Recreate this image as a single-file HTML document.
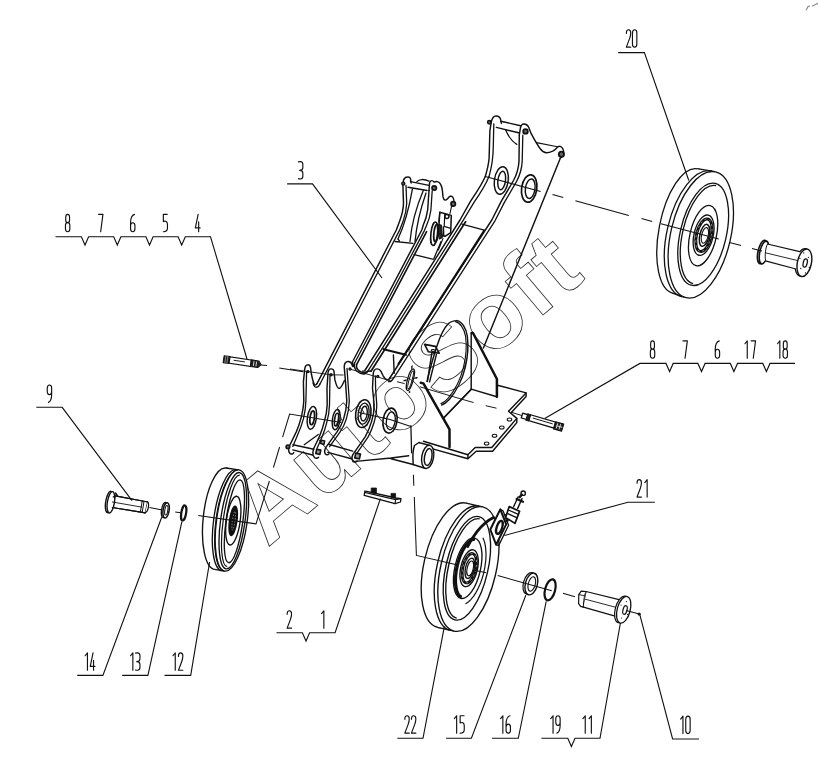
<!DOCTYPE html>
<html><head><meta charset="utf-8"><title>diagram</title>
<style>
html,body{margin:0;padding:0;background:#fff;}
body{width:818px;height:784px;overflow:hidden;font-family:"Liberation Sans",sans-serif;}
svg{display:block;position:absolute;left:0;top:0;}
.wm{font-family:"Liberation Sans",sans-serif;fill:none;stroke:#222;stroke-width:0.8;}
</style></head><body>
<svg width="818" height="784" viewBox="0 0 818 784">
<defs>
<path id="d0" d="M0,3.2 C0,1 1,0 2.2,0 C3.4,0 4.4,1 4.4,3.2 V14.2 C4.4,16.4 3.4,17.4 2.2,17.4 C1,17.4 0,16.4 0,14.2 Z"/>
<path id="d1" d="M0,2.9 L2.3,0 V17.4"/>
<path id="d2" d="M0,3.6 C0,1 1,0 2.2,0 C3.4,0 4.4,1 4.4,3.2 C4.4,5 4,6.6 3.3,8.6 L0,17.4 H4.4"/>
<path id="d3" d="M0,0.3 C0.8,0 1.4,0 2,0 C3.6,0 4.4,1 4.4,3 V6 C4.4,7.8 3.4,8.8 1.2,8.8 C3.4,8.8 4.4,9.8 4.4,11.6 V14.4 C4.4,16.4 3.6,17.4 2,17.4 C1.4,17.4 0.8,17.4 0,17.1"/>
<path id="d4" d="M2.8,0 L0,13.5 H4.8 M3.3,7.5 V17.4"/>
<path id="d5" d="M4.2,0 H0.3 V7.2 C2.4,6 4.4,7.2 4.4,10 V14 C4.4,16.4 3.2,17.4 0.3,17.4"/>
<path id="d6" d="M4,0 C2,0.6 0,3.5 0,8.5 V14.2 C0,16.4 1,17.4 2.2,17.4 C3.4,17.4 4.4,16.4 4.4,14.2 V11.6 C4.4,9.4 3.4,8.4 2.2,8.4 C1,8.4 0,9.4 0,11.6"/>
<path id="d7" d="M0,0 H4.4 L2.1,17.4"/>
<path id="d8" d="M2.2,8.2 C1,8.2 0.3,7.2 0.3,5.8 V2.8 C0.3,1 1,0 2.2,0 C3.4,0 4.1,1 4.1,2.8 V5.8 C4.1,7.2 3.4,8.2 2.2,8.2 C3.6,8.2 4.4,9.4 4.4,11 V14.4 C4.4,16.4 3.6,17.4 2.2,17.4 C0.8,17.4 0,16.4 0,14.4 V11 C0,9.4 0.8,8.2 2.2,8.2 Z"/>
<path id="d9" d="M4.4,6 C4.4,8.4 3.4,9.6 2.2,9.6 C1,9.6 0,8.4 0,6 V3.2 C0,1 1,0 2.2,0 C3.4,0 4.4,1 4.4,3.2 V9.5 C4.4,14 3,16.6 1.2,17.4"/>
</defs>
<!-- 00_watermark.svg -->
<g id="watermark" font-family="Liberation Sans, sans-serif" font-weight="bold" font-size="94.6" letter-spacing="2.6" transform="translate(267.4,547.8) rotate(-40.2)">
<text x="0" y="0" fill="none" stroke="#2a2a2a" stroke-width="0.8" stroke-linejoin="miter">AutoSoft</text>
</g>

<!-- 10_frame.svg -->
<g id="frame" fill="none" stroke="#111" stroke-width="1.45" stroke-linejoin="round" stroke-linecap="round">

<!-- ===== base plate ===== -->
<g id="baseplate">
<path d="M497.5,385.2 L526.1,392.9 L508.5,411.2 L516.8,418.4 L491.8,447.5 L475.2,447.5 L467.9,454.8 L423.5,441.3"/>
<path d="M526.1,392.9 V396.6 L511.6,412.2 M516.8,418.4 V422.6 L492.6,451.3 H476.2 L467.9,458.8 V454.8 M467.9,458.8 L433.6,449.1"/>
<ellipse cx="509.5" cy="419.5" rx="2.3" ry="1.5" stroke-width="1.05"/>
<ellipse cx="501.8" cy="427.4" rx="2.3" ry="1.5" stroke-width="1.05"/>
<ellipse cx="494.5" cy="435.7" rx="2.3" ry="1.5" stroke-width="1.05"/>
<ellipse cx="486.6" cy="443.4" rx="2.3" ry="1.5" stroke-width="1.05"/>
</g>

<!-- ===== gusset ===== -->
<g id="gusset">
<path d="M471.2,333.4 V389.1 L496.8,396.7 V379 " />
<path d="M471.6,333 L473,333 L496.9,379 V396.7" stroke-width="2.50"/>
<path d="M471.4,389.1 L443.6,418"/>
</g>

<!-- ===== guard (crescent) ===== -->
<g id="guard">
<path d="M457,320.6 C462,321.5 466,328 467.3,336 C468.6,346 467.5,358 465.2,367.5 C462.5,379 456,392 449.3,399.5 C446.5,402.5 444,404.2 441.7,405"/>
<path d="M455.5,321.6 C460,322.5 464.2,328.6 465.6,336.4 C466.9,346 465.8,358 463.5,367.2 C460.8,378.5 454.6,390.8 448,398.3 C445.6,401 443.2,402.8 441,403.6" stroke-width="1.15"/>
<path d="M457,320.6 C453,320.6 450,322 448,324 C444,328 440.5,335 436.6,347 C433,358 429.5,371 427,381.4"/>
<!-- tab -->
<path d="M424.6,344.4 L435.4,346.4 L439.2,353.2 L428.4,351.8 Z" stroke-width="1.60"/>
<ellipse cx="433.4" cy="350.6" rx="2.2" ry="1" transform="rotate(12 433.4 350.6)" stroke-width="1.15"/>
<!-- strut -->
<path d="M431.8,353.4 L427.4,381.5 M436.4,354.4 L429.6,381.8"/>
</g>

<!-- thick diagonal + vertical -->
<path d="M420.8,382.8 L423.4,383.4 L449.5,429.4 V447" stroke-width="2.50"/>
<!-- floor line going up-right from thick line -->
<path d="M443.9,417.8 L471.4,389.3" stroke-width="1.30"/>

<!-- ===== right arm ===== -->
<g id="rightarm">
<!-- front plate right edge -->
<path d="M560.3,158.2 L483.4,348"/>
<!-- front plate top contour -->
<path d="M519.3,135.2 L520.4,128 C521,125 522.3,124 523.8,124 C526,124 527.6,125 528.6,127 L531.2,133.7 C534,139 537,144.5 540.4,149 C542.6,151.8 544.4,152.8 546.4,152.8 C549,152.8 551,152 552.7,151.2 C555,150 556.5,148 558,146.8 C559.6,145.8 561,146.4 562,147.6 C563.6,149.6 564,152.4 563.2,154.6 C562.6,156.4 561.4,157.6 560.3,158.2"/>
<path d="M536.6,142.6 L557.4,146.8" stroke-width="1.15"/>
<circle fill="#666" cx="525.5" cy="131.4" r="2.3" stroke-width="1.80"/>
<circle fill="#666" cx="561.4" cy="154.2" r="2.6" stroke-width="1.80"/>
<!-- back plate saddle visible behind pin -->
<path d="M505.6,129.8 C507.5,134.5 510.5,140.6 516.8,144.4" stroke-width="1.30"/>
<!-- pin -->
<path d="M500.8,121.2 L520.6,125.8 M496.4,127.4 L518.6,132.8"/>
<!-- back plate ear -->
<path d="M485.3,176.5 C487.2,170 488.6,164 489.1,158.2 L489.9,130.6 L491.2,122.4 C492,118.2 493.8,116 496,116 C498.4,116 500.4,117.6 500.8,120.4 L501.4,123.4"/>
<path d="M493.8,124 L493.3,146 C493.2,158 491.5,168 489,176.6" stroke-width="1.30"/>
<circle fill="#666" cx="489.3" cy="122.2" r="1.7" stroke-width="1.50"/>
<!-- front plate left edge down (L4) -->
<path d="M519.3,135.2 L519,161.2 C518.6,168 516.5,175 513.5,180.5 L501.2,201.4 L491.8,220 L389.8,378"/>
<path d="M522.8,135.2 L522.2,161.4 C521.8,168.6 519.8,175.4 516.6,181.4 L504.4,202.4 L495,220.8 L393.4,378.4" stroke-width="1.30"/>
<!-- back plate left edge down (L3) -->
<path d="M485.3,176.5 C481,186 476,193 470.6,201.2 L460,220 L365.2,370"/>
<path d="M489,176.6 C485,186.5 479.6,194.4 474,202.4 L463,220.6 L368,370.8" stroke-width="1.30"/>
<path d="M465.6,221.8 L371,371.2" stroke-width="1.70"/>
<!-- cross line L3-L4 -->
<path d="M462,224.2 L484.2,230.2" stroke-width="1.30"/>
<path d="M484.2,230.6 L398.4,364" stroke-width="2.00"/>
<!-- holes -->
<ellipse cx="501.3" cy="180.5" rx="6.9" ry="13.8" transform="rotate(8 501.3 180.5)" fill="#fff"/>
<ellipse cx="501.7" cy="180.5" rx="3.8" ry="9.3" transform="rotate(8 501.7 180.5)"/>
<ellipse cx="529.2" cy="188.5" rx="7.6" ry="13.8" transform="rotate(8 529.2 188.5)" fill="#fff" stroke-width="1.70"/>
<ellipse cx="530.2" cy="188.7" rx="4.8" ry="9.8" transform="rotate(8 530.2 188.7)"/>
</g>

<!-- ===== left arm ===== -->
<g id="leftarm">
<!-- back plate ear + L1 -->
<path d="M411.1,183 L410.5,178.6 C410,177 408.8,176.8 407.3,177 C405.2,177.2 404,178.4 403.5,180.3 L402.9,185.4 L403.5,203.3 C403.3,210 401.6,216 399.7,221.1 L396.3,230 L317,383.6"/>
<path d="M406,185.4 L406.7,203.3 C406.5,210.6 404.8,216.6 403,221.6 L399.5,230.4 L320,384" stroke-width="1.30"/>
<circle fill="#666" cx="403.3" cy="183.6" r="1.5" stroke-width="1.40"/>
<!-- pin -->
<path d="M410.5,181.6 L429,185.4 M408,187.3 L427.1,190.5"/>
<!-- disc arcs inside arm -->
<path d="M416.9,181.6 C419,179.2 424,178.6 429,181.2" stroke-width="1.30"/>
<path d="M412.4,189.2 C410,203 405,224 398,239" stroke-width="1.30"/>
<path d="M423.3,190.5 C418,203 411.5,224 410,241.5 M426,193 C421.5,206 416.5,226 415,241.5" stroke-width="1.30"/>
<!-- front plate ear -->
<path d="M429,190.5 L429.6,182.9 C430,181 430.6,180.6 431.6,180.6 C433,180.6 433.6,181.4 434.1,182.2 C435.4,181.6 436.4,181.4 437.3,181.6 C439,182 440,183 440.5,184.1 C441.6,186 442.2,188.4 442.4,190.5 L443,196.9 C443.4,198.8 444,199.8 444.9,200.1 C445.9,200.2 446.8,199.6 447.5,198.8 C448.4,197.6 449.2,196.6 450.1,196.3 C451.2,196 452,196.2 452.6,196.9 C453.4,198 453.8,199.4 453.9,200.7"/>
<circle fill="#666" cx="434.2" cy="188" r="2.2" stroke-width="1.70"/>
<circle fill="#666" cx="453.2" cy="203.9" r="2.2" stroke-width="1.70"/>
<path d="M451.6,206 L450,213.5" stroke-width="1.15"/>
<!-- L2 (front plate left edge, triple) -->
<path d="M429,190.5 L427.7,209.6 C427,215 425.6,220 423.3,225 L421.8,230 L352.4,362"/>
<path d="M432.2,190.8 L430.9,210 C430.2,215.6 428.8,220.6 426.5,225.6 L424.4,230.6 L354.6,363" stroke-width="1.30"/>
<path d="M426.6,231.6 L356.6,364.6" stroke-width="1.60"/>
<!-- right edge of front plate behind bracket -->
<path d="M441.1,241.5 L433.6,259.2" stroke-width="1.30"/>
<!-- cross lines -->
<path d="M395,241.5 L412.9,243.4 M414.2,254.7 L432.6,259.2 M399.4,240.8 L398,239" stroke-width="1.30"/>
<!-- sensor bracket -->
<path d="M439.8,212.2 L451.3,215.4 L450.7,232.6 L445,236.4 L438.4,233.8 Z" stroke-width="1.5" fill="#fff"/>
<path d="M444.8,213.8 L444.2,226.4 L450.6,228.4" stroke-width="1.2"/>
<path d="M439.8,212.2 L438.8,222" stroke-width="1.2"/>
<circle cx="446.9" cy="216.4" r="2" stroke-width="1.5"/>
<ellipse cx="434.2" cy="233.8" rx="3.3" ry="11.8" transform="rotate(6 434.2 233.8)" fill="#fff" stroke-width="1.6"/>
<ellipse cx="436.2" cy="233" rx="2.3" ry="8.8" transform="rotate(6 436.2 233)" stroke-width="1.7"/>
<path d="M438.8,224.4 L441.6,225.2 L442.4,237.6 L439.8,239 Z" fill="#222" stroke-width="1"/>
<path d="M443.4,227 L443.8,236" stroke-width="1.4"/>
<path d="M443,238.4 L438.4,250" stroke-width="1.1"/>
</g>

<!-- ===== box cross plates lower ===== -->
<path d="M383.6,349.2 L405.8,354.8" stroke-width="2.20"/>
<path d="M393.4,355 L394.2,373.4" stroke-width="1.40"/>

<!-- ===== boss cylinder ===== -->
<g id="boss">
<path d="M414.5,445.5 C413,450 412.6,456 413.1,461.6 M418.9,442.5 L429.9,445.5 M413.1,464.5 L424.8,468.2 M414.5,445.5 L418.9,442.5 M413.1,461.6 V464.5"/>
<ellipse cx="427.7" cy="456.9" rx="5.9" ry="11.7" transform="rotate(10 427.7 456.9)" fill="#fff"/>
<ellipse cx="428.2" cy="457" rx="3.7" ry="8.5" transform="rotate(10 428.2 457)"/>
<path d="M410.9,425.7 L411.6,452.8" stroke-width="1.30"/>
<path d="M353,461.6 L391.1,458 L408.7,455.7 M391.1,458.8 L413.1,464.5" stroke-width="1.40"/>
</g>
<!-- small slotted hole with centermarks -->
<g id="slot">
<ellipse cx="410.4" cy="379.7" rx="2.9" ry="11.2" transform="rotate(15 410.4 379.7)" stroke-width="1.2"/>
<ellipse cx="410.6" cy="379.8" rx="1.5" ry="9.2" transform="rotate(15 410.6 379.8)" stroke-width="1"/>
<circle cx="411.9" cy="367" r="0.8" fill="#111" stroke="none"/><circle cx="409.5" cy="392" r="0.9" fill="#111" stroke="none"/>
<circle cx="416.2" cy="377.8" r="0.9" fill="#111" stroke="none"/><circle cx="405.2" cy="380.4" r="0.9" fill="#111" stroke="none"/>
<path d="M414,378.4 L417.4,377.6 M403.6,380.8 L407,380 M411.6,368.6 L412.2,365.6" stroke-width="0.9"/>
</g>
</g>

<!-- 12_forks.svg -->
<g id="forks" fill="none" stroke="#111" stroke-width="1.45" stroke-linejoin="round" stroke-linecap="round">
<!-- P1 -->
<path d="M317,383.6 C316.2,385 315.2,385.4 314.4,384.4 C313.2,382.6 312.4,379 311.4,374 L310.5,367.4 C310.1,365.6 309.2,364.6 307.9,364.7 C306,364.8 305,366.6 304.7,369.1 L303.4,381.9 L303.8,401 C303.6,406 302.8,411 301.5,416.3 C300,422 298.4,427 296.4,431.6 L289.4,446 C288.4,449 288.6,452.2 290.2,453.6 C291.6,454.6 293,454 293.8,452.6"/>
<path d="M320,384 C318.8,386.8 316.8,388 315,386.8 C314,386 313.4,384.6 313,383" stroke-width="1.30"/>
<path d="M306.6,371.7 L305.9,401 C305.8,407 304.8,413 303.4,418.9 C301.8,424.6 300,429.6 298,434 L292.8,446.4" stroke-width="1.30"/>
<circle cx="307.9" cy="371.6" r="1" stroke-width="1.40"/>
<ellipse cx="311.9" cy="417.8" rx="4.5" ry="11.5" transform="rotate(8 311.9 417.8)"/>
<ellipse cx="312.2" cy="417.8" rx="2.2" ry="7" transform="rotate(8 312.2 417.8)" stroke-width="1.70"/>
<!-- P2 -->
<path d="M344.4,380.6 C342.6,384.6 341,388.4 339.1,388.4 C337.4,388.4 336,384.4 334.8,379.4 L334,371.4 C333.6,369.6 332.6,368.8 331.1,368.9 C329.2,369 328.2,370.6 328,373 L327,388.3 L327.2,404.8 C327,410 326,416 324.4,421.4 C323,427 321.4,432 319.3,436.7 L313.6,448.8 C312.6,452.4 312.8,456 314.6,457.6 C316,458.6 317.6,458.2 318.6,457.2"/>
<path d="M330,375.6 L329.5,404.8 C329.3,411 328.3,417 326.8,422.4 C325.4,428 323.8,433 321.8,437.6 L317,448.6" stroke-width="1.30"/>
<circle cx="331.1" cy="374.8" r="1" stroke-width="1.40"/>
<ellipse cx="336.2" cy="419.6" rx="3.8" ry="10.2" transform="rotate(8 336.2 419.6)"/>
<ellipse cx="336.5" cy="419.6" rx="1.9" ry="6.4" transform="rotate(8 336.5 419.6)" stroke-width="1.70"/>
<!-- P1-P2 brace -->
<path d="M304.2,444.7 L318.3,434.5" stroke-width="1.30"/>
<!-- P3 -->
<path d="M352.4,362 L353.8,366.6 C352.8,366.8 352.4,366 352.2,365 C351.4,362.6 350,361.4 348,361.5 C345.6,361.6 344.4,363.6 344.2,366.6 L345.5,381.9 L346.8,401 C346.6,407 345.4,413 343.6,418.9 C342,424 339.8,428 337.2,431.6 L326.2,446.9 C324.6,449.6 324.2,452.4 325.4,454 C326.4,455.2 327.8,455 328.8,454"/>
<path d="M347,368.4 L349.3,401 C349.2,407.4 348,413.4 346.2,419.4 C344.6,424.6 342.4,428.8 339.8,432.4 L329.6,446.6" stroke-width="1.30"/>
<circle cx="350" cy="369" r="1" stroke-width="1.40"/>
<!-- U between L2 and L3 -->
<path d="M356.6,364.6 C356.2,366.8 356.6,368.6 358,369.8 C360,371.6 362.4,372.8 364.4,372.4 C366.6,372 368.6,370.6 371,371.2"/>
<path d="M354.6,363 C354,366.6 354.8,369.4 357,371.2 C359.6,373.4 362.6,374.4 365,373.8 C366.6,373.4 367.6,372 368,370.8" stroke-width="1.30"/>
<path d="M365.2,370 C364.6,371 363.6,371.4 362.6,371" stroke-width="1.30"/>
<ellipse cx="363.3" cy="413.6" rx="7.6" ry="14" transform="rotate(8 363.3 413.6)" stroke-width="1.60"/>
<ellipse cx="363.6" cy="413.6" rx="5.4" ry="10.6" transform="rotate(8 363.6 413.6)" stroke-width="1.30"/>
<ellipse cx="364" cy="413.6" rx="3.2" ry="7.4" transform="rotate(8 364 413.6)" stroke-width="1.40"/>
<!-- P4 -->
<path d="M389.8,378 C388.8,379.6 387.6,380.2 386.6,379.6 C385,378.6 384,377.4 383.1,375.8 L381,371.4 C380.2,369.8 378.8,368.8 376.8,368.9 C374.6,369 373.4,371 373.2,374.2 L372.5,388.3 L374.2,404.8 C374.2,410.6 373.4,416 371.6,421.4 C370,427 367.8,432 365.3,436.7 L352.8,454.6 C351.6,457.4 351.8,460 353.4,461.4 C354.6,462.4 356.2,462 357.2,461"/>
<path d="M393.4,378.4 C392,381 390.2,382 388.4,381.6" stroke-width="1.30"/>
<path d="M375.4,375.9 L375.6,388 L376.8,405 C376.8,411 376,416.6 374.2,422 C372.6,427.6 370.4,432.6 368,437.2 L356.6,453.6" stroke-width="1.30"/>
<circle cx="377.8" cy="376.4" r="1" stroke-width="1.40"/>
<ellipse cx="390" cy="420.6" rx="7" ry="12.6" transform="rotate(8 390 420.6)" stroke-width="1.60"/>
<ellipse cx="390.8" cy="420.8" rx="4.4" ry="9" transform="rotate(8 390.8 420.8)" stroke-width="1.30"/>
<!-- pins at bottom -->
<path d="M293,444.8 L313.8,449.2 M292.8,449.9 L312.6,455" />
<path d="M328.6,444.2 L352.7,451.1 M327.8,452.4 L351.4,458.8"/>
<!-- nuts -->
<circle cx="287.9" cy="446.8" r="1.8" stroke-width="1.60" fill="#777"/>
<rect x="316.2" y="449.6" width="4.2" height="4.4" stroke-width="1.60" transform="rotate(12 318.3 451.8)" fill="#999"/>
<rect x="355.2" y="453.6" width="4.8" height="4.8" stroke-width="1.60" transform="rotate(12 357.6 456)" fill="#999"/>
<rect x="321" y="440.6" width="3.4" height="3.4" stroke-width="1.40" transform="rotate(12 322.7 442.3)" fill="#999"/>
<circle cx="370.1" cy="416.8" r="0.55" fill="#111" stroke="none"/><circle cx="366.8" cy="425.4" r="0.55" fill="#111" stroke="none"/><circle cx="360.2" cy="422.2" r="0.55" fill="#111" stroke="none"/><circle cx="356.9" cy="410.4" r="0.55" fill="#111" stroke="none"/><circle cx="360.2" cy="401.8" r="0.55" fill="#111" stroke="none"/><circle cx="366.8" cy="405.0" r="0.55" fill="#111" stroke="none"/><circle cx="396.3" cy="423.5" r="0.55" fill="#111" stroke="none"/><circle cx="393.3" cy="431.1" r="0.55" fill="#111" stroke="none"/><circle cx="387.4" cy="428.3" r="0.55" fill="#111" stroke="none"/><circle cx="384.5" cy="417.9" r="0.55" fill="#111" stroke="none"/><circle cx="387.5" cy="410.3" r="0.55" fill="#111" stroke="none"/><circle cx="393.4" cy="413.1" r="0.55" fill="#111" stroke="none"/>
</g>

<!-- 20_wheel20.svg -->
<g id="wheel20" fill="none" stroke="#111" stroke-width="1.3">
<ellipse cx="685.3" cy="231.0" rx="26.3" ry="63.4" transform="rotate(11 685.3 231.0)" fill="#fff" />
<path d="M697.2,168.7 L714.8,171.7 L684.7,297.3 L671.8,292.9 Z" fill="#fff" stroke="none"/>
<path d="M697.2,168.7 L714.8,171.7 M684.7,297.3 L671.8,292.9" />
<ellipse cx="700.8" cy="234.8" rx="29.9" ry="64.6" transform="rotate(13.2 700.8 234.8)" fill="#fff" />
<path d="M711.7,171.0 A29.9,64.6 13.2 0 0 682.2,296.8" />
<ellipse cx="703.2" cy="234.3" rx="23.0" ry="52.3" transform="rotate(13.2 703.2 234.3)" />
<path d="M716.1,185.6 A22.0,50.3 13.2 0 0 693.1,283.6" />
<ellipse cx="703.1" cy="235.6" rx="13.2" ry="30.9" transform="rotate(13.2 703.1 235.6)" />
<ellipse cx="703.6" cy="235.2" rx="9.6" ry="20.6" transform="rotate(13.2 703.6 235.2)" stroke-width="1.3"/>
<ellipse cx="703.9" cy="235.2" rx="7.4" ry="16.6" transform="rotate(13.2 703.9 235.2)" stroke-width="3.0"/>
<ellipse cx="703.9" cy="235.2" rx="7.4" ry="16.6" transform="rotate(13.2 703.9 235.2)" stroke="#fff" stroke-width="0.5" stroke-dasharray="2 3"/>
<ellipse cx="704.5" cy="235.3" rx="4.7" ry="11.2" transform="rotate(13.2 704.5 235.3)" stroke-width="1.5"/>
<ellipse cx="704.9" cy="235.4" rx="3.3" ry="8.0" transform="rotate(13.2 704.9 235.4)" stroke-width="1.1" fill="#fff"/>
</g>

<!-- 21_spindle20.svg -->
<g id="spindle20" fill="none" stroke="#111" stroke-width="1.25">
<ellipse cx="762.4" cy="252.0" rx="4.4" ry="11.9" transform="rotate(12 762.4 252.0)" fill="#fff" stroke-width="1.7"/>
<ellipse cx="764.0" cy="252.5" rx="4.2" ry="11.6" transform="rotate(12 764.0 252.5)" fill="#fff" stroke-width="1.6"/>
<ellipse cx="802.6" cy="262.3" rx="7.0" ry="14.0" transform="rotate(12 802.6 262.3)" fill="#fff"/>
<path d="M766.4,243.8 L800.7,251.8 L796,269 L763.6,260.3 Z" fill="#fff" stroke="none"/>
<path d="M767.4,244 L800.7,251.8 M796,269 L765.4,260.8" />
<path d="M765.4,252.8 L798.7,260.8" stroke-width="0.9"/>
<path d="M767.6,244 C765.6,247 764.6,256 765.6,260.8" stroke-width="1"/>
<ellipse cx="804.4" cy="262.8" rx="7.0" ry="14.0" transform="rotate(12 804.4 262.8)" fill="#fff" stroke-width="1.4"/>
<ellipse cx="805.2" cy="263.0" rx="2.0" ry="4.2" transform="rotate(12 805.2 263.0)" stroke-width="1.3"/>
<circle cx="809.3" cy="267.4" r="0.65" fill="#111" stroke="none"/><circle cx="805.5" cy="272.9" r="0.65" fill="#111" stroke="none"/><circle cx="800.8" cy="268.5" r="0.65" fill="#111" stroke="none"/><circle cx="799.9" cy="258.4" r="0.65" fill="#111" stroke="none"/><circle cx="803.7" cy="252.9" r="0.65" fill="#111" stroke="none"/><circle cx="808.4" cy="257.3" r="0.65" fill="#111" stroke="none"/>
</g>

<!-- 30_wheel12.svg -->
<g id="wheel12" fill="none" stroke="#111" stroke-width="1.35">
<ellipse cx="220.3" cy="518.7" rx="17.1" ry="51.0" transform="rotate(6.1 220.3 518.7)" fill="#fff" />
<path d="M225.9,468.0 L238.9,469.9 L224.7,571.1 L214.5,569.4 Z" fill="#fff" stroke="none"/>
<path d="M225.9,468.0 L238.9,469.9 M224.7,571.1 L214.5,569.4" />
<ellipse cx="231.9" cy="520.5" rx="15.3" ry="51.1" transform="rotate(7.9 231.9 520.5)" fill="#fff" />
<path d="M235.6,469.6 A15.3,51.1 7.9 0 0 221.6,570.8" />
<path d="M237.8,470.0 A15.2,50.9 7.9 0 0 223.8,570.8" stroke-width="1.1"/>
<ellipse cx="232.8" cy="520.7" rx="12.2" ry="48.6" transform="rotate(7.9 232.8 520.7)" />
<path d="M239.8,475.1 A10.3,46.2 7.9 0 0 227.2,566.7" stroke-width="1.2"/>
<ellipse cx="234.4" cy="521.3" rx="8.4" ry="41.8" transform="rotate(7.9 234.4 521.3)" />
<ellipse cx="233.3" cy="520.6" rx="6.9" ry="24.6" transform="rotate(7.9 233.3 520.6)" />
<ellipse cx="233.2" cy="520.8" rx="3.7" ry="14.8" transform="rotate(7.9 233.2 520.8)" fill="#111" stroke-width="1.4"/>
<ellipse cx="233.7" cy="520.8" rx="1.3" ry="9.5" transform="rotate(7.9 233.7 520.8)" stroke="#aaa" stroke-width="0.7" stroke-dasharray="1.5 1.5"/>
</g>

<!-- 40_wheel22.svg -->
<g id="wheel22" fill="none" stroke="#111" stroke-width="1.35">
<ellipse cx="451.8" cy="565.2" rx="27.7" ry="63.7" transform="rotate(13 451.8 565.2)" fill="#fff" />
<path d="M466.1,503.1 L482.7,506.9 L454.1,631.1 L437.5,627.3 Z" fill="#fff" stroke="none"/>
<path d="M466.1,503.1 L482.7,506.9 M454.1,631.1 L437.5,627.3" />
<ellipse cx="468.4" cy="569.0" rx="27.7" ry="63.7" transform="rotate(13 468.4 569.0)" fill="#fff" />
<path d="M479.1,506.1 A27.7,63.7 13 0 0 450.5,630.3" />
<ellipse cx="466.9" cy="568.2" rx="21.0" ry="53.0" transform="rotate(13 466.9 568.2)" />
<path d="M479.7,518.8 A19.8,51.0 13 0 0 456.7,618.2" />
<ellipse cx="467.7" cy="568.2" rx="12.8" ry="30.9" transform="rotate(13 467.7 568.2)" />
<path d="M475.1,539.3 A12.0,29.8 13 0 0 461.7,597.3" stroke-width="3.2"/><path d="M482.9,537.7 L483.4,538.9 L483.9,540.2 L484.4,541.6 L484.8,543.1 L485.1,544.7 L485.4,546.4 L485.6,548.1 L485.8,549.9 L485.9,551.8 L486.0,553.7 L486.0,555.7 L485.9,557.7 L485.8,559.7 L485.6,561.8 L485.3,563.9 L485.0,566.0 L484.7,568.1 L484.2,570.2 L483.8,572.3 L483.3,574.4 L482.7,576.5 L482.1,578.5 L481.4,580.6 L480.7,582.5 L479.9,584.5 L479.1,586.3 L478.3,588.1 L477.4,589.9 L476.5,591.5 L475.6,593.1 L474.6,594.6 L473.7,596.1 L472.7,597.4 L471.6,598.6 L470.6,599.8 L469.6,600.8 L468.6,601.7 L467.5,602.5 L466.5,603.2 L465.4,603.8" stroke-width="1.2"/>
<ellipse cx="469.1" cy="568.2" rx="8.4" ry="18.8" transform="rotate(13 469.1 568.2)" stroke-width="1.3"/>
<ellipse cx="469.3" cy="568.2" rx="6.5" ry="15.0" transform="rotate(13 469.3 568.2)" stroke-width="2.8"/>
<ellipse cx="469.3" cy="568.2" rx="6.5" ry="15.0" transform="rotate(13 469.3 568.2)" stroke="#fff" stroke-width="0.5" stroke-dasharray="2 3"/>
<ellipse cx="469.8" cy="568.3" rx="4.3" ry="10.4" transform="rotate(13 469.8 568.3)" stroke-width="1.4"/>
<ellipse cx="470.2" cy="568.4" rx="3.0" ry="7.6" transform="rotate(13 470.2 568.4)" stroke-width="1.1" fill="#fff"/>
</g>

<!-- 45_bracket21.svg -->
<g id="bracket21" fill="none" stroke="#111" stroke-width="1.3" stroke-linejoin="round" stroke-linecap="round">
<!-- scraper band from bracket down-left to the hub recess -->
<path d="M493.6,517.6 C488,520.2 482,525.6 477,531.6 C473.6,536 470,541.6 467.6,546.6" stroke-width="2.8"/>
<!-- plate (parallelogram) -->
<path d="M500.3,509.4 L490.3,529.5 L496.1,544.7 L506.2,524.4 Z" fill="#fff" stroke-width="2"/>
<path d="M500.3,509.4 L503,510.8 L508.6,525.2 L498.6,545.6 L496.1,544.7" stroke-width="1.3"/>
<ellipse cx="499.4" cy="527.4" rx="2.7" ry="6.8" transform="rotate(18 499.4 527.4)" stroke-width="2.3"/>
<!-- connector -->
<path d="M504.4,514.4 L509.4,517 L507.6,521.6 L505.8,521" fill="#222" stroke-width="1.4"/>
<!-- fitting block -->
<path d="M505.6,517.6 L509.2,506.6 L519.6,511.2 L515,523.4 Z" fill="#fff" stroke-width="1.7"/>
<path d="M507.2,513.4 L517.2,517.8 M508.4,510 L518.4,514.4" stroke-width="1.3"/>
<path d="M513.6,506.8 L518.2,496.8 M517.6,508.6 L522,498.6" stroke-width="1.4"/>
<path d="M516.6,499 L523,501.8" stroke-width="2.2"/>
<circle cx="523.2" cy="493.2" r="2.2" stroke-width="1.4"/>
<path d="M519.6,497.2 L521.8,494.6" stroke-width="2.4"/>
</g>

<!-- 50_small.svg -->
<g id="smallparts" fill="none" stroke="#111" stroke-width="1.2" stroke-linejoin="round" stroke-linecap="round">
<!-- bolt 4 (left) : axis (223.6,359.3)->(261.2,364.8) angle 8.3deg -->
<g transform="translate(223.6,359.2) rotate(8.3)">
<rect x="0" y="-3.5" width="6" height="7" fill="#222" stroke-width="1"/>
<path d="M1.8,-3.4 V3.4 M3.8,-3.4 V3.4" stroke="#bbb" stroke-width="0.6"/>
<rect x="6" y="-3.2" width="21.6" height="6.4" fill="#fff"/>
<path d="M10.5,-0.4 H21" stroke-width="0.9"/>
<path d="M27.6,-3.4 H35 L38,0 L35,3.4 H27.6 Z" fill="#222" stroke-width="1"/>
<path d="M30.4,-2 V2 M33,-2 V2" stroke="#ddd" stroke-width="0.9"/>
</g>
<!-- bolt right (8 7 6 17 18): axis (521.5,415.2)->(563.1,427.5) angle 16.5deg -->
<g transform="translate(521.5,415.3) rotate(16.5)">
<path d="M0.5,-2.4 H6 V2.6 H0.5 Z" stroke-width="1.3"/>
<rect x="5.6" y="-3.2" width="3" height="6.6" fill="#222" stroke-width="1"/>
<rect x="8.6" y="-3.1" width="26" height="6.2" fill="#fff"/>
<path d="M12,-0.6 H32" stroke-width="0.9"/>
<path d="M34.6,-3.6 H43 V4 H34.6 Z" fill="#222" stroke-width="1"/>
<path d="M37,-2.2 V2.4 M40,-2.2 V2.4 M37,0 H42" stroke="#ddd" stroke-width="0.9"/>
</g>
<!-- pin 9 -->
<g id="pin9">
<ellipse cx="109.2" cy="502" rx="3.5" ry="10.8" transform="rotate(9 109.2 502)" fill="#fff" stroke-width="1.4"/>
<path d="M115.3,495.9 L147.7,502 L145.2,512.8 L112.2,507.5 Z" fill="#fff"/>
<ellipse cx="110.9" cy="502.3" rx="3.5" ry="10.8" transform="rotate(9 110.9 502.3)" fill="#fff" stroke-width="1.4"/>
<path d="M113.2,497 L115.3,495.9 L147.7,502 M112.2,507.5 L145.2,512.8" />
<path d="M112.4,502 L141.6,507.1" stroke-width="0.9"/>
<path d="M142.2,501 L140.4,512 M144,501.4 L142.2,512.3" stroke-width="1"/>
<path d="M147.7,502 C149.4,503.4 148.6,511.4 145.2,512.8" fill="#fff"/>
<path d="M115.6,493.2 L117,495.2" stroke-width="1.8"/>
</g>
<!-- nut 14 -->
<g id="nut14">
<ellipse cx="164.6" cy="510" rx="3.0" ry="7.7" transform="rotate(9 164.6 510)" fill="#fff" stroke-width="1.3"/>
<ellipse cx="166.1" cy="510.3" rx="3.0" ry="7.7" transform="rotate(9 166.1 510.3)" fill="#fff" stroke-width="1.5"/>
<ellipse cx="166.3" cy="510.3" rx="1.5" ry="4.8" transform="rotate(9 166.3 510.3)" stroke-width="1.1"/>
</g>
<!-- washer 13 -->
<ellipse cx="183.7" cy="513" rx="2.4" ry="7.6" transform="rotate(9 183.7 513)" fill="#fff" stroke-width="2.2"/>
<!-- bar (parts 1,2) -->
<g id="bar12">
<path d="M364.9,491 L364.2,495.4 L395,503.6 L400.5,502 L400.9,498.7 L396.1,498 L365.6,491.2 Z" fill="#fff" stroke-width="1.3"/>
<path d="M364.6,492.4 L395.6,499.6 L395,503.6 M395.6,499.6 L400.9,498.7" stroke-width="1.1"/>
<path d="M371.2,492.4 V488 H376.4 V493.6 Z M391,497 V493.4 H395.6 V498 Z" fill="#111" stroke-width="0.8"/>
</g>
<!-- nut 15 -->
<g id="nut15">
<ellipse cx="529.4" cy="583.4" rx="6" ry="11.1" transform="rotate(15 529.4 583.4)" fill="#fff" stroke-width="1.2"/>
<ellipse cx="531.4" cy="584" rx="6" ry="11.1" transform="rotate(15 531.4 584)" fill="#fff" stroke-width="1.4"/>
<ellipse cx="531.8" cy="584" rx="3.5" ry="7.4" transform="rotate(15 531.8 584)" stroke-width="1.1"/>
</g>
<!-- washer 16 -->
<ellipse cx="550.1" cy="589.8" rx="5" ry="10.8" transform="rotate(15 550.1 589.8)" fill="#fff" stroke-width="2.2"/>
<!-- spindle 11 -->
<g id="spindle11">
<path d="M586,591.5 L621.1,600.1 L616,616.3 L582.6,606.9 Z" fill="#fff"/>
<path d="M585.2,599.2 L617.7,607.8" stroke-width="0.9"/>
<path d="M586,591.5 L581.2,591.2 L578.8,594.6 L578.6,603.6 L580.6,606.4 L582.6,606.9" fill="#fff"/>
<path d="M586,591.5 C584.4,594 583.2,602 583.6,607.2" stroke-width="1"/>
<path d="M578.8,594.6 L583.8,595.6" stroke-width="0.9"/>
<ellipse cx="621.8" cy="609.4" rx="6.5" ry="13.7" transform="rotate(15 621.8 609.4)" fill="#fff" stroke-width="1.2"/>
<ellipse cx="623.7" cy="609.8" rx="6.5" ry="13.7" transform="rotate(15 623.7 609.8)" fill="#fff" stroke-width="1.3"/>
<ellipse cx="625" cy="610" rx="2" ry="4.4" transform="rotate(15 625 610)" stroke-width="1.2"/>
<circle cx="626.4" cy="601.6" r="0.6" fill="#111" stroke="none"/><circle cx="627.6" cy="614.4" r="0.6" fill="#111" stroke="none"/>
<circle cx="621" cy="605" r="0.6" fill="#111" stroke="none"/><circle cx="621.6" cy="618" r="0.6" fill="#111" stroke="none"/>
</g>
<circle cx="639.1" cy="614.1" r="1.2" fill="#111" stroke-width="0.8"/>
</g>

<!-- 60_centerlines.svg -->
<g id="centerlines" fill="none" stroke="#111" stroke-width="1.05" stroke-linecap="butt">
<!-- upper-left bolt axis -->
<path d="M261.2,364.9 L267.1,365.6 M279.3,367.9 L303.2,371.8"/>
<!-- through fork ears -->
<path d="M290,369 L307.9,371.6 L331.1,374.8 L343.6,375 M350,369.1 L378,377.2 L390,380.6" stroke-width="0.9"/>
<path d="M397,381.7 L404.6,383.6 M419.9,386.8 L462.1,399.3 L473.6,402.5 M485.7,405.7 L496.5,408.2 M511.2,412.2 L522,415.6" stroke-width="0.95"/>
<!-- right arm top axis -->
<path d="M485.3,176.5 L540.6,191.4 M552.5,194.6 L563.3,197.5 M575.4,200.7 L628.8,215.4 M641.5,218.6 L652.2,221.4 M661,223.8 L718.8,239.1 M729.5,242.4 L741.1,245.4 M752,248.4 L762,251"/>
<!-- lower axis through fork holes -->
<path d="M282.6,437.1 L289.6,414.1 L341.2,422.4 M358.9,412.5 L390,419.5 L410.9,426.4"/>
<!-- diag to wheel 12 -->
<path d="M279.6,447 L273.4,467.6 M269.4,481 L256,523.9 L198.3,515.5"/>
<!-- pin9 axis -->
<path d="M149.5,507.5 L162.3,510 M175.2,512 L180.7,512.8"/>
<!-- vertical down to wheel 22 -->
<path d="M413.4,474.8 L413.8,485.8 M414.3,497 L416.4,555.4 L456.6,564.7"/>
<path d="M473.6,570 L486.1,572.8 M497.7,575.6 L551.8,590.7 M562.9,593.2 L574.9,596.7 M626.2,610.4 L638.2,613.8"/>
</g>

<!-- 70_misc.svg -->
<g id="misc" fill="none" stroke="#8a8a8a" stroke-width="1.2" stroke-linecap="round">
<path d="M806.4,9.8 L808,6.6 L809.4,6.2 M812.4,6 L815,4.8 L818,3.2" />
</g>

<g id="leaders" fill="none" stroke="#111" stroke-width="1.12" stroke-linejoin="miter">
<path d="M618.2,52.6 H644.4 L688.8,180.5"/>
<path d="M287.1,183.9 H312.5 L382,278"/>
<path d="M55.5,236.8 H81.4 L85,245.0 L88.6,236.8 H113.7 L117.3,245.0 L120.9,236.8 H145.9 L149.5,245.0 L153.1,236.8 H178.1 L181.7,245.0 L185.3,236.8 H210.5 L247,359"/>
<path d="M36.3,407.3 H62.2 L132,500.6"/>
<path d="M77.2,675.4 H102.9 L161.7,517.3"/>
<path d="M122.2,675.4 H147.9 L181.9,521.6"/>
<path d="M164.5,675.4 H190.7 L209.6,562"/>
<path d="M276.5,632.8 H302.4 L306,641.0 L309.6,632.8 H335.1 L380.4,498.6"/>
<path d="M397.3,738.3 H423 L444.4,626.3"/>
<path d="M446.1,738.3 H471.4 L525.8,595.2"/>
<path d="M491.9,738.3 H518.3 L546.2,601.4"/>
<path d="M541.4,738.3 H567.8 L571.4,746.5 L575.0,738.3 H600 L620.4,623"/>
<path d="M699,739 H672.6 L639.8,614.6"/>
<path d="M654.8,502.3 H627.9 L504.4,535.5"/>
<path d="M544.7,418.6 L639.9,363.4  H666.0 L669.6,371.6 L673.2,363.4 H697.9 L701.5,371.6 L705.1,363.4 H730.3 L733.9,371.6 L737.5,363.4 H762.8 L766.4,371.6 L770.0,363.4 H795"/>
</g>
<g id="labels" fill="none" stroke="#111" stroke-width="1.15" stroke-linecap="round" stroke-linejoin="round">
<use href="#d2" x="626.35" y="29.75"/><use href="#d0" x="632.45" y="29.75"/>
<use href="#d3" x="298.45" y="161.55"/>
<use href="#d8" x="65.45" y="214.35"/><use href="#d7" x="98.55" y="214.35"/><use href="#d6" x="130.55" y="214.35"/><use href="#d5" x="163.05" y="214.35"/><use href="#d4" x="195.35" y="214.35"/>
<use href="#d9" x="47.25" y="384.95"/>
<use href="#d1" x="85.15" y="652.85"/><use href="#d4" x="90.25" y="652.85"/>
<use href="#d1" x="130.55" y="652.85"/><use href="#d3" x="135.55" y="652.85"/>
<use href="#d1" x="172.95" y="652.85"/><use href="#d2" x="178.45" y="652.85"/>
<use href="#d2" x="287.15" y="610.75"/><use href="#d1" x="321.55" y="610.75"/>
<use href="#d2" x="404.85" y="715.75"/><use href="#d2" x="411.45" y="715.75"/>
<use href="#d1" x="454.35" y="715.75"/><use href="#d5" x="459.85" y="715.75"/>
<use href="#d1" x="500.55" y="715.75"/><use href="#d6" x="506.05" y="715.75"/>
<use href="#d1" x="550.75" y="715.75"/><use href="#d9" x="555.75" y="715.75"/>
<use href="#d1" x="582.95" y="715.75"/><use href="#d1" x="589.05" y="715.75"/>
<use href="#d1" x="680.65" y="716.15"/><use href="#d0" x="685.75" y="716.15"/>
<use href="#d2" x="637.05" y="479.65"/><use href="#d1" x="644.85" y="479.65"/>
<use href="#d8" x="650.35" y="340.85"/><use href="#d7" x="682.95" y="340.85"/><use href="#d6" x="715.25" y="340.85"/><use href="#d1" x="744.95" y="340.85"/><use href="#d7" x="751.15" y="340.85"/><use href="#d1" x="777.55" y="340.85"/><use href="#d8" x="783.05" y="340.85"/>
</g>
</svg>
</body></html>
